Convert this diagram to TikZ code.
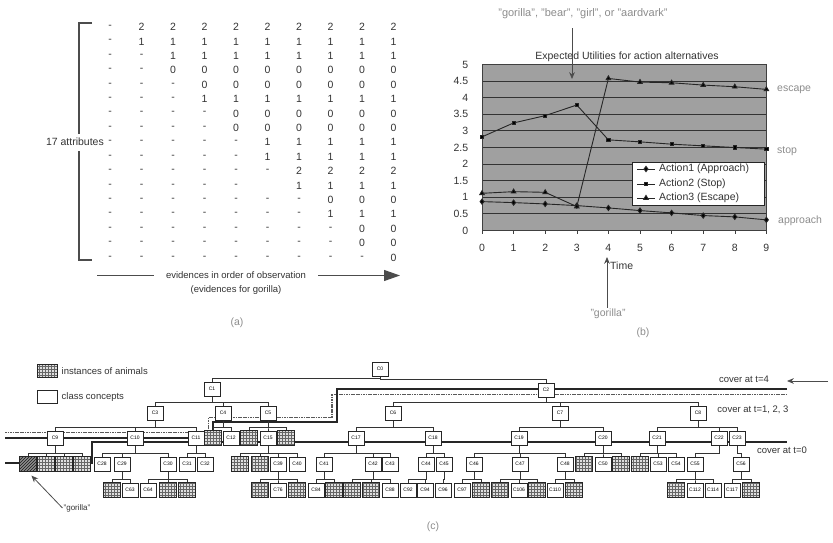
\documentclass[tikz,border=0pt]{standalone}
\usepackage{fontspec}
\setmainfont{Liberation Sans}
\usetikzlibrary{positioning,arrows.meta,patterns,plotmarks}
\definecolor{ink}{HTML}{333333}
\definecolor{pencil}{HTML}{8C8C8C}
\definecolor{plotbg}{HTML}{A0A0A0}
\tikzset{
  entry/.style={font=\fontsize{10.5}{12}\selectfont, text=ink, inner sep=0pt},
  caption/.style={font=\fontsize{9.5}{11}\selectfont, text=ink, inner sep=1pt},
  hand/.style={font=\fontsize{10.5}{12}\selectfont, text=pencil, inner sep=1pt},
  tick/.style={font=\fontsize{10.5}{12}\selectfont, text=ink, inner sep=1pt},
  cls/.style={rectangle, draw=black!85, line width=1pt, fill=white,
              minimum width=16pt, minimum height=14pt, inner sep=0pt,
              font=\fontsize{5}{5}\selectfont},
  inst/.style={rectangle, draw=black!85, line width=1pt,
               minimum width=17pt, minimum height=15pt, inner sep=0pt,
               preaction={fill=gray!25}, pattern=grid, pattern color=black!60},
  seen/.style={inst, preaction={fill=black!45}, pattern=north east lines, pattern color=black!90},
  edge/.style={draw=black!80, line width=0.9pt},
  cover/.style={draw=black!85, line width=2pt},
  hatch/.style={draw=black!65, line width=1.8pt, dash pattern=on 1.2pt off 0.5pt},
  arr/.style={-{Stealth[length=2.4mm, width=2mm]}, line width=0.8pt, draw=black!70},
  series/.style={draw=black!85, line width=0.9pt},
}

\begin{document}
\begin{tikzpicture}[x=1pt, y=-1pt]
  \useasboundingbox (0,0) rectangle (833,543);

  %% --- (a) attributes observed so far ---
  \draw[line width=1.8pt, black!70] (92,23) -- (79,23) -- (79,134);
  \draw[line width=1.8pt, black!70] (79,151) -- (79,260) -- (92,260);
  \node[entry, anchor=east] (attrs) at (104,142) {17 attributes};
  \foreach \row [count=\r] in {
    {-,2,2,2,2,2,2,2,2,2},
    {-,1,1,1,1,1,1,1,1,1},
    {-,-,1,1,1,1,1,1,1,1},
    {-,-,0,0,0,0,0,0,0,0},
    {-,-,-,0,0,0,0,0,0,0},
    {-,-,-,1,1,1,1,1,1,1},
    {-,-,-,-,0,0,0,0,0,0},
    {-,-,-,-,0,0,0,0,0,0},
    {-,-,-,-,-,1,1,1,1,1},
    {-,-,-,-,-,1,1,1,1,1},
    {-,-,-,-,-,-,2,2,2,2},
    {-,-,-,-,-,{},1,1,1,1},
    {-,-,-,-,-,-,-,0,0,0},
    {-,-,-,-,-,-,-,1,1,1},
    {-,-,-,-,-,-,-,-,0,0},
    {-,-,-,-,-,-,-,-,0,0},
    {-,-,-,-,-,-,-,-,-,0}}{
    \foreach \val [count=\c] in \row
      \node[entry] (m\r-\c) at ({110+31.5*(\c-1)},{27+14.4*(\r-1)}) {\val};
  }
  \node[caption, fill=white, inner xsep=12pt] (evlabel) at (236,275.5) {evidences in order of observation};
  \node[caption, below=4pt of evlabel] (evnote) {(evidences for gorilla)};
  \coordinate (evstart) at (97,275.5);
  \coordinate (evend) at (400,275.5);
  \draw[line width=1.2pt, black!70] (evstart) -- (evlabel);
  \draw[line width=1.2pt, black!70, -{Triangle[length=16pt, width=11pt]}] (evlabel) -- (evend);
  \node[hand] (capa) at (237,323) {(a)};

  %% --- (b) expected utilities ---
  \node[tick] (eutitle) at (627,57) {Expected Utilities for action alternatives};
  \begin{scope}[shift={(482,230.5)}, x=31.6pt, y=33.2pt]
    \fill[plotbg] (0,0) rectangle (9,5);
    \foreach \v in {0.5,1,1.5,2,2.5,3,3.5,4,4.5}
      \draw[black!80, line width=1pt] (0,\v) -- (9,\v);
    \draw[black!75, line width=0.6pt] (0,0) rectangle (9,5);
    \foreach \t in {0,...,9} {
      \draw[black!75, line width=0.6pt] (\t,0) -- (\t,-0.1);
      \node[tick] (tx\t) at (\t,-0.52) {\t};
    }
    \foreach \v [count=\i] in {0,0.5,1,1.5,2,2.5,3,3.5,4,4.5,5}
      \node[tick, anchor=east] (ty\i) at (-0.4,\v) {\v};
    \draw[series] plot[mark=diamond*, mark size=2.6pt] coordinates
      {(0,0.87) (1,0.84) (2,0.8) (3,0.75) (4,0.68) (5,0.6) (6,0.53) (7,0.45) (8,0.41) (9,0.32)};
    \draw[series] plot[mark=square*, mark size=1.6pt] coordinates
      {(0,2.82) (1,3.24) (2,3.46) (3,3.78) (4,2.73) (5,2.67) (6,2.6) (7,2.55) (8,2.5) (9,2.45)};
    \draw[series] plot[mark=triangle*, mark size=2.6pt] coordinates
      {(0,1.12) (1,1.17) (2,1.15) (3,0.72) (4,4.58) (5,4.47) (6,4.45) (7,4.38) (8,4.33) (9,4.25)};
  \end{scope}
  \node[draw=black!85, fill=white, line width=0.6pt, minimum width=132pt, minimum height=43pt] (legend) at (698,183.5) {};
  \draw[series] (637,169) -- (655,169);
  \draw[series] plot[mark=diamond*, mark size=2.6pt] coordinates {(646,169)};
  \draw[series] (637,184) -- (655,184);
  \draw[series] plot[mark=square*, mark size=1.4pt] coordinates {(646,184)};
  \draw[series] (637,198) -- (655,198);
  \draw[series] plot[mark=triangle*, mark size=2.6pt] coordinates {(646,198)};
  \node[tick, anchor=west] (leg1) at (658,169) {Action1 (Approach)};
  \node[tick, anchor=west] (leg2) at (658,184) {Action2 (Stop)};
  \node[tick, anchor=west] (leg3) at (658,198) {Action3 (Escape)};
  \node[hand, anchor=west] (escape) at (776,90) {escape};
  \node[hand, anchor=west] (stop) at (776,151) {stop};
  \node[hand, anchor=west] (approach) at (777,221) {approach};
  \node[hand, font=\fontsize{11}{13}\selectfont] (cands) at (583,14) {"gorilla", "bear", "girl", or "aardvark"};
  \coordinate (candtip) at (572,79);
  \draw[arr, shorten <=8pt] (cands.south -| candtip) -- (candtip);
  \node[hand] (gor) at (608,314) {"gorilla"};
  \coordinate (gortip) at (607,257);
  \draw[arr] (gor.north -| gortip) -- (gortip);
  \node[tick, anchor=west] (time) at (609,266) {Time};
  \node[hand] (capb) at (643,333) {(b)};

  %% --- (c) cover lines (behind the tree) ---
  \draw[hatch] (787,394.5) -- (332,394.5) -- (332,417.5) -- (208.5,417.5) -- (208.5,432.5) -- (5,432.5);
  \draw[cover] (787,389) -- (337,389) -- (337,421.5) -- (212.5,421.5) -- (212.5,437.5) -- (5,437.5);
  \draw[cover] (5,463) -- (92,463) -- (92,441.5) -- (787,441.5);

  %% --- (c) legend ---
  \node[inst, minimum width=20pt, minimum height=13pt] (keyinst) at (47,371) {};
  \node[caption, right=3pt of keyinst] (keyinsttxt) {instances of animals};
  \node[cls, minimum width=20pt, minimum height=13pt] (keycls) at (47,397) {};
  \node[caption, right=3pt of keycls] (keyclstxt) {class concepts};

  %% --- (c) concept tree ---
  \foreach \n/\x/\y in {0/380/369, 1/212/389, 2/546/390,
      3/155/413, 4/223/413, 5/268/413, 6/393/413, 7/560/413, 8/698/413,
      9/55/438, 10/135/438, 11/196/438, 12/231/438, 15/268/438, 17/356/438,
      18/433/438, 19/519/438, 20/603/438, 21/657/438, 22/719/438, 23/737/438,
      28/102/464, 29/122/464, 30/168/464, 31/187/464, 32/205/464, 39/278/464,
      40/297/464, 41/324/464, 42/373/464, 43/390/464, 44/426/464, 45/444/464,
      46/474/464, 47/520/464, 48/565/464, 50/603/464, 53/658/464, 54/676/464,
      55/695/464, 56/741/464,
      63/130/490, 64/148/490, 76/278/490, 84/316/490, 88/390/490, 92/408/490,
      94/425/490, 96/443/490, 97/462/490, 106/519/490, 110/555/490,
      112/695/490, 114/713/490, 117/732/490}
    \node[cls] (c\n) at (\x,\y) {C\n};
  \foreach \n/\x/\y in {4a/213/438, 5a/249/438, 5b/286/438,
      9b/46/464, 9c/64/464, 9d/82/464, 15a/240/464, 15b/260/464,
      20a/584/464, 20b/621/464, 21a/640/464,
      29a/112/490, 30a/168/490, 30b/187/490, 39a/260/490, 39b/297/490,
      41a/334/490, 42a/352/490, 42b/371/490, 46a/481/490, 47a/500/490,
      47b/537/490, 48a/574/490, 55a/676/490, 56a/751/490}
    \node[inst] (i\n) at (\x,\y) {};
  \node[seen] (g0) at (28,464) {};

  \foreach \p/\c in {c0/c1, c0/c2, c1/c3, c1/c4, c1/c5, c2/c6, c2/c7, c2/c8,
      c3/c9, c3/c10, c3/c11, c4/i4a, c4/c12, c5/i5a, c5/c15, c5/i5b,
      c6/c17, c6/c18, c7/c19, c7/c20, c8/c21, c8/c22, c8/c23,
      c9/g0, c9/i9b, c9/i9c, c9/i9d, c10/c28, c10/c29, c10/c30, c11/c31, c11/c32,
      c15/i15a, c15/i15b, c15/c39, c15/c40, c17/c41, c17/c42, c17/c43,
      c18/c44, c18/c45, c19/c46, c19/c47, c19/c48, c20/i20a, c20/c50, c20/i20b,
      c21/i21a, c21/c53, c21/c54, c22/c55, c23/c56,
      c29/i29a, c29/c63, c30/c64, c30/i30a, c30/i30b, c39/i39a, c39/c76, c39/i39b,
      c41/c84, c41/i41a, c42/i42a, c42/i42b, c42/c88, c44/c92, c44/c94, c45/c96,
      c46/c97, c46/i46a, c47/i47a, c47/c106, c47/i47b, c48/c110, c48/i48a,
      c55/i55a, c55/c112, c55/c114, c56/c117, c56/i56a}
    \draw[edge] (\p.south) |- ([yshift=3pt]\c.north) -- (\c.north);

  \node[caption] (cov4) at (744,379) {cover at t=4};
  \coordinate (cov4tail) at (828,381);
  \coordinate (cov4tip) at (787,381);
  \draw[arr] (cov4tail) -- (cov4tip);
  \node[caption] (cov123) at (753,410) {cover at t=1, 2, 3};
  \node[caption] (cov0) at (782,450) {cover at t=0};
  \node[caption, font=\fontsize{8}{9}\selectfont] (gorc) at (77,508) {"gorilla"};
  \draw[arr, shorten >=5pt] (gorc.west) -- (g0.south);
  \node[hand] (capc) at (433,527) {(c)};
\end{tikzpicture}
\end{document}
